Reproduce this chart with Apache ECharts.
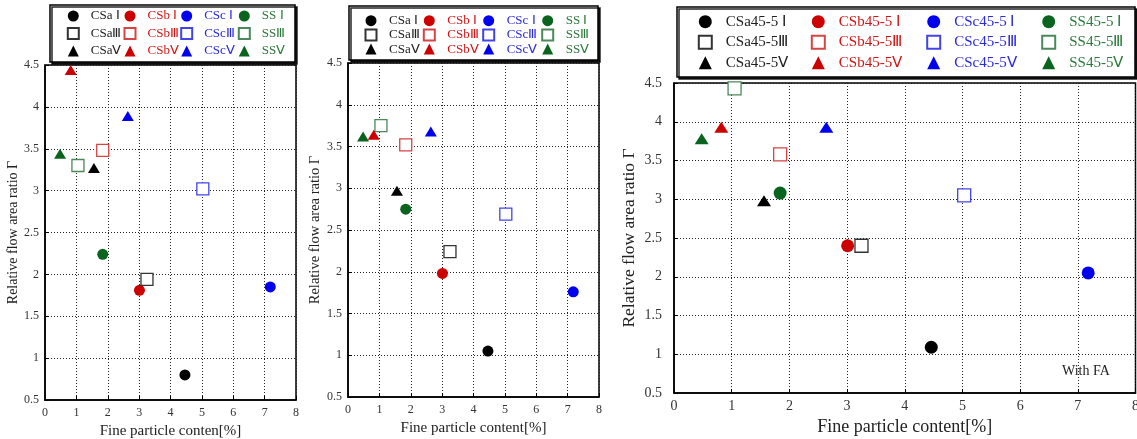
<!DOCTYPE html>
<html><head><meta charset="utf-8">
<script src="https://cdn.jsdelivr.net/npm/echarts@6.0.0/dist/echarts.min.js"></script>
<style>html,body{margin:0;padding:0;background:#fff}#c{width:1137px;height:439px}</style>
</head><body><div id="c"></div><script>
const materials = ['CSa','CSb','CSc','SS'];
const gradings = [' Ⅰ','Ⅲ','Ⅴ'];
// fine particle content [%]; order: grading I (CSa,CSb,CSc,SS), III (...), V (...)
const fineContent = [4.46,3.01,7.18,1.84, 3.25,1.84,5.03,1.05, 1.56,0.82,2.64,0.48];
// relative flow area ratio per panel, same order
const gammaPanel1 = [0.80,1.81,1.85,2.24, 1.94,3.48,3.02,3.30, 3.27,4.44,3.89,3.44];
const gammaPanel2 = [1.05,1.98,1.76,2.75, 2.24,3.52,2.69,3.75, 2.97,3.64,3.68,3.62];
const gammaPanel3 = [1.09,2.40,2.05,3.08, 2.40,3.58,3.05,4.43, 2.98,3.93,3.93,3.78];
const xAxisNames = ['Fine particle conten[%]','Fine particle content[%]','Fine particle content[%]'];
const yAxisName = 'Relative flow area ratio Γ';
const annotation = 'With FA';

const FONT = "'Liberation Serif','Times New Roman',serif";
const fillColors = ['#000000','#cc0000','#0000ee','#0a641e'];
const rectColors = ['#333333','#d84444','#4444e6','#4a8a5a'];
const textColors = ['#222222','#d41414','#2a2ae0','#2a7a3a'];

const panels = [
  {grid:{left:45,right:841,top:65,bottom:39}, gamma:gammaPanel1, suffix:'', sym:[11,12,[12,10]], lab:12, nameSize:15, yNameSize:14, yGap:23, xGap:23, xMargin:7,
   legX:[72.3,129,185.7,243.3], legTop:9, legGap:3.5, legFont:13, legLH:14, legIcon:11, legPad:7, box:[50,5,245,57]},
  {grid:{left:348,right:538,top:63,bottom:42}, gamma:gammaPanel2, suffix:'', sym:[11,12,[12,10]], lab:12, nameSize:15, yNameSize:14.5, yGap:23, xGap:22, xMargin:7,
   legX:[370,428.3,487.7,546.7], legTop:13.7, legGap:0.2, legFont:13, legLH:14, legIcon:11, legPad:7.5, box:[349,6,249,54]},
  {grid:{left:674,right:1.5,top:83,bottom:46}, gamma:gammaPanel3, suffix:'45-5', sym:[13,13,[14,11]], lab:14, nameSize:18, yNameSize:17.5, yGap:36, xGap:16, xMargin:6,
   legX:[704.3,817.3,932.7,1047.7], legTop:13.2, legGap:3.5, legFont:15, legLH:17, legIcon:13, legPad:9, box:[677,7,458,70]}
];

const grids=[], xAxes=[], yAxes=[], series=[], legends=[], graphics=[];
panels.forEach((p,pi)=>{
  grids.push(Object.assign({show:true, borderColor:'#000', borderWidth:1.5, backgroundColor:'transparent',
    containLabel:false, outerBoundsMode:'none'}, p.grid));
  xAxes.push({gridIndex:pi, type:'value', min:0, max:8, interval:1,
    name:xAxisNames[pi], nameLocation:'middle', nameGap:p.xGap,
    nameTextStyle:{fontFamily:FONT, fontSize:p.nameSize, color:'#222'},
    axisLine:{show:true, onZero:false, lineStyle:{color:'#000', width:1.5}},
    axisTick:{show:true, inside:true, length:4, lineStyle:{color:'#000'}},
    axisLabel:{fontFamily:FONT, fontSize:p.lab, color:'#333', margin:p.xMargin, hideOverlap:false},
    splitLine:{show:true, lineStyle:{color:'#222', width:1, type:[1,2]}}});
  yAxes.push({gridIndex:pi, type:'value', min:0.5, max:4.5, interval:0.5,
    name:yAxisName, nameLocation:'middle', nameGap:p.yGap,
    nameTextStyle:{fontFamily:FONT, fontSize:p.yNameSize, color:'#222'},
    axisLine:{show:true, onZero:false, lineStyle:{color:'#000', width:1.5}},
    axisTick:{show:true, inside:true, length:4, lineStyle:{color:'#000'}},
    axisLabel:{fontFamily:FONT, fontSize:p.lab, color:'#333', margin:pi===2?12:6},
    splitLine:{show:true, lineStyle:{color:'#222', width:1, type:[1,2]}}});
  const cols = [[],[],[],[]];
  gradings.forEach((g,gi)=>{
    materials.forEach((m,mi)=>{
      const i = gi*4+mi;
      const name = m + p.suffix + g;
      const s = {type:'scatter', name, xAxisIndex:pi, yAxisIndex:pi,
        data:[[fineContent[i], p.gamma[i]]], symbolSize:p.sym[gi], z:3,
        emphasis:{disabled:true}};
      if(gi===0){ s.symbol='circle'; s.itemStyle={color:fillColors[mi], opacity:1}; }
      else if(gi===1){ s.symbol='rect'; s.itemStyle={color:'#ffffff', borderColor:rectColors[mi], borderWidth:1.3, opacity:1}; }
      else { s.symbol='triangle'; s.itemStyle={color:fillColors[mi], opacity:1}; }
      series.push(s);
      cols[mi].push({name, textStyle:{color:textColors[mi]}});
    });
  });
  cols.forEach((c,mi)=>{
    legends.push({orient:'vertical', left:p.legX[mi]-p.legIcon/2, top:p.legTop, padding:0,
      itemGap:p.legGap, itemWidth:p.legIcon, itemHeight:p.legIcon, selectedMode:false,
      textStyle:{fontFamily:FONT, fontSize:p.legFont, lineHeight:p.legLH, padding:[0,0,0,p.legPad]},
      data:c, z:5});
  });
  graphics.push({type:'rect', shape:{x:p.box[0], y:p.box[1], width:p.box[2], height:p.box[3]},
    style:{fill:'#fff', stroke:'#000', lineWidth:1.5, shadowColor:'rgba(0,0,0,0.85)', shadowOffsetX:2, shadowOffsetY:2, shadowBlur:0}, z:1});
});
graphics.push({type:'text', left:1062, top:364, style:{text:annotation, font:'14px '+FONT, fill:'#222'}, z:6});

const chart = echarts.init(document.getElementById('c'), null, {renderer:'canvas'});
chart.setOption({animation:false, backgroundColor:'#fff', grid:grids, xAxis:xAxes, yAxis:yAxes,
  series, legend:legends, graphic:graphics});
</script></body></html>
